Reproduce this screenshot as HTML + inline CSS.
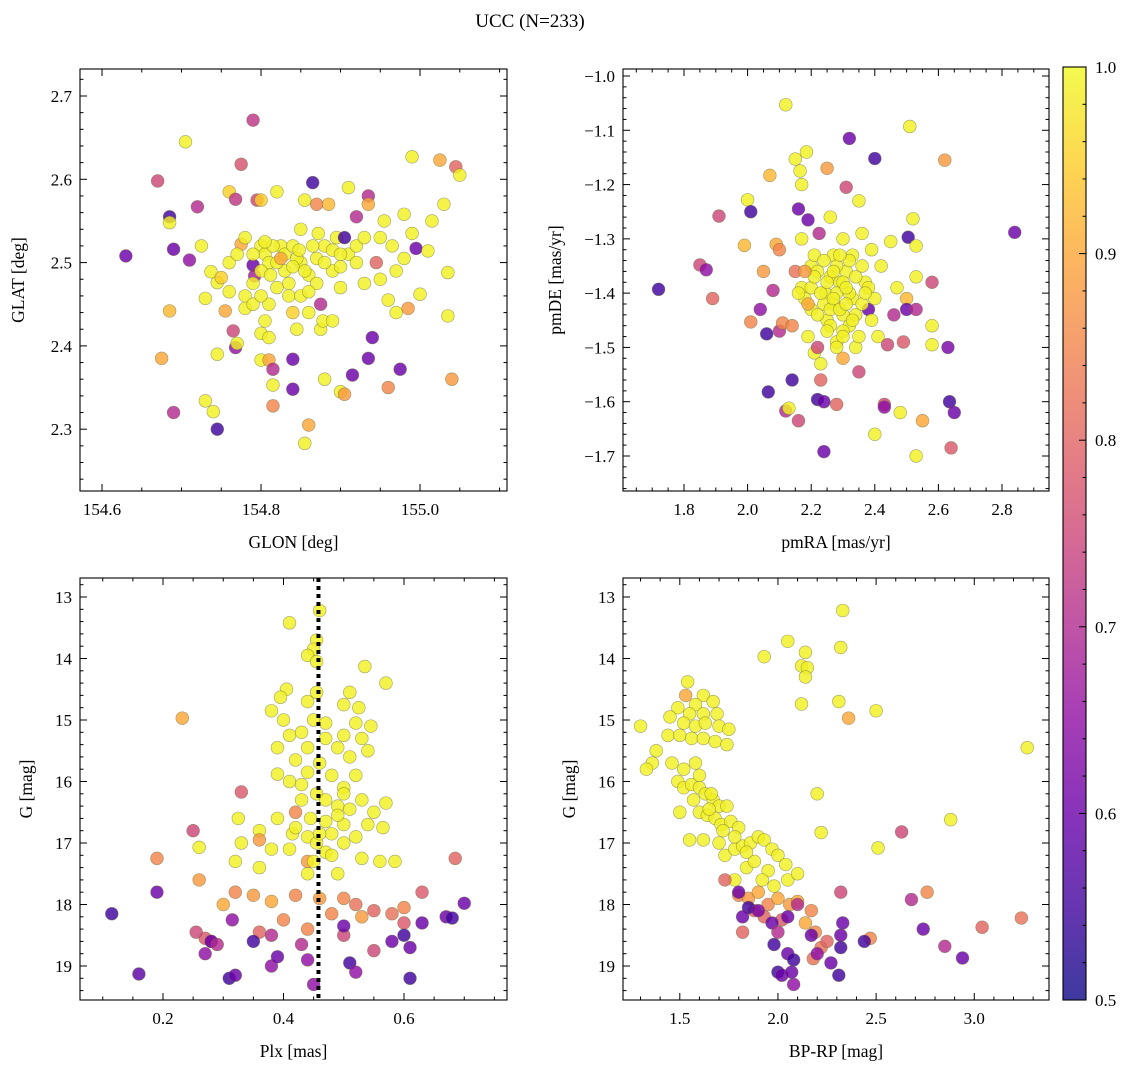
<!DOCTYPE html>
<html><head><meta charset="utf-8">
<style>
html,body{margin:0;padding:0;background:#fff;}
svg{display:block;font-family:"Liberation Serif",serif;}
</style></head>
<body>
<svg id="fig" width="1136" height="1067" viewBox="0 0 1136 1067" xmlns="http://www.w3.org/2000/svg">
<text x="530" y="27" font-size="19" text-anchor="middle">UCC (N=233)</text>
</svg>
<script>
// ---------- Top-left: GLON / GLAT ----------
const tlGlon=[154.63,154.67,154.685,154.685,154.69,154.69,154.705,154.71,154.72,154.675,154.685,154.725,154.73,154.73,154.74,154.745,154.745,154.737,154.745,154.75,154.755,154.765,154.768,154.77,154.76,154.768,154.775,154.79,154.775,154.78,154.78,154.79,154.792,154.795,154.8,154.8,154.805,154.81,154.81,154.805,154.8,154.80,154.81,154.81,154.815,154.815,154.815,154.82,154.825,154.83,154.835,154.84,154.84,154.84,154.845,154.85,154.85,154.855,154.855,154.86,154.86,154.865,154.87,154.87,154.875,154.875,154.878,154.88,154.88,154.885,154.89,154.89,154.895,154.9,154.9,154.905,154.905,154.91,154.91,154.915,154.92,154.92,154.93,154.935,154.935,154.935,154.94,154.945,154.95,154.955,154.96,154.96,154.965,154.97,154.975,154.98,154.98,154.985,154.99,154.99,154.995,155.0,155.01,155.015,155.025,155.03,155.035,155.035,155.04,155.045,155.05,154.79,154.8,154.815,154.82,154.83,154.84,154.845,154.855,154.865,154.88,154.89,154.9,154.92,154.93,154.87,154.82,154.79,154.85,154.76,154.78,154.805,154.812,154.825,154.835,154.848,154.86,154.872,154.8,154.79,154.84,154.86,154.9,154.76,154.77,154.95,154.97];
const tlGlat=[2.508,2.598,2.555,2.548,2.516,2.32,2.645,2.503,2.567,2.385,2.442,2.52,2.457,2.334,2.321,2.39,2.30,2.489,2.476,2.482,2.442,2.418,2.398,2.403,2.585,2.576,2.618,2.671,2.522,2.46,2.445,2.497,2.484,2.575,2.575,2.52,2.51,2.50,2.45,2.43,2.415,2.383,2.383,2.41,2.372,2.353,2.328,2.585,2.52,2.49,2.46,2.44,2.384,2.348,2.42,2.54,2.5,2.575,2.283,2.305,2.485,2.596,2.505,2.57,2.45,2.42,2.43,2.36,2.52,2.57,2.49,2.43,2.53,2.47,2.345,2.342,2.53,2.59,2.51,2.365,2.5,2.555,2.475,2.58,2.57,2.385,2.41,2.5,2.48,2.55,2.455,2.35,2.52,2.44,2.372,2.558,2.505,2.445,2.627,2.535,2.517,2.462,2.514,2.55,2.623,2.57,2.488,2.436,2.36,2.615,2.605,2.51,2.49,2.52,2.5,2.51,2.52,2.505,2.49,2.52,2.5,2.515,2.51,2.52,2.53,2.475,2.47,2.45,2.46,2.5,2.53,2.525,2.485,2.505,2.475,2.515,2.465,2.535,2.46,2.475,2.495,2.44,2.495,2.465,2.51,2.53,2.49];
const tlProb=[0.6,0.75,0.55,0.99,0.6,0.7,0.99,0.65,0.7,0.9,0.92,0.99,0.99,0.99,0.99,0.99,0.55,0.99,0.99,0.95,0.9,0.75,0.65,0.99,0.95,0.72,0.77,0.72,0.9,0.99,0.99,0.6,0.68,0.75,0.95,0.99,0.99,0.99,0.99,0.99,0.99,0.99,0.9,0.99,0.7,0.99,0.85,0.99,0.99,0.99,0.99,0.95,0.6,0.6,0.99,0.99,0.99,0.99,0.99,0.9,0.99,0.55,0.99,0.85,0.7,0.99,0.99,0.99,0.99,0.92,0.99,0.99,0.99,0.99,0.99,0.88,0.55,0.99,0.99,0.6,0.99,0.7,0.99,0.7,0.9,0.6,0.6,0.8,0.99,0.99,0.99,0.85,0.99,0.99,0.6,0.99,0.99,0.88,0.99,0.99,0.6,0.99,0.99,0.99,0.9,0.99,0.99,0.99,0.88,0.8,0.99,0.99,0.99,0.99,0.99,0.99,0.99,0.99,0.99,0.99,0.99,0.99,0.99,0.99,0.99,0.99,0.99,0.99,0.99,0.99,0.99,0.99,0.99,0.9,0.99,0.99,0.99,0.99,0.99,0.99,0.99,0.99,0.99,0.99,0.99,0.99,0.99];
// ---------- Top-right: pmRA / pmDE ----------
const trPmra=[1.72,1.85,1.87,1.89,1.91,1.99,2.0,2.01,2.01,2.04,2.05,2.06,2.065,2.07,2.08,2.09,2.1,2.1,2.11,2.12,2.12,2.13,2.14,2.14,2.15,2.15,2.16,2.16,2.165,2.17,2.17,2.17,2.18,2.185,2.19,2.19,2.2,2.2,2.21,2.21,2.22,2.22,2.225,2.23,2.23,2.24,2.24,2.245,2.25,2.25,2.26,2.26,2.27,2.27,2.28,2.28,2.29,2.3,2.3,2.3,2.31,2.31,2.32,2.32,2.33,2.33,2.34,2.35,2.35,2.36,2.37,2.38,2.39,2.4,2.4,2.41,2.42,2.43,2.43,2.44,2.45,2.46,2.47,2.48,2.49,2.5,2.5,2.505,2.51,2.52,2.53,2.53,2.53,2.53,2.55,2.58,2.58,2.58,2.62,2.63,2.635,2.64,2.65,2.84,2.22,2.24,2.26,2.28,2.28,2.3,2.32,2.32,2.34,2.34,2.36,2.36,2.38,2.26,2.3,2.24,2.22,2.4,2.2,2.35,2.23,2.25,2.27,2.29,2.31,2.33,2.25,2.27,2.29,2.31,2.21,2.19,2.37,2.39,2.18,2.16,2.28,2.3];
const trPmde=[-1.393,-1.348,-1.357,-1.41,-1.258,-1.312,-1.228,-1.25,-1.453,-1.43,-1.36,-1.475,-1.582,-1.183,-1.395,-1.31,-1.32,-1.47,-1.455,-1.053,-1.617,-1.612,-1.56,-1.46,-1.153,-1.36,-1.245,-1.635,-1.175,-1.2,-1.3,-1.39,-1.41,-1.14,-1.265,-1.48,-1.35,-1.43,-1.33,-1.51,-1.596,-1.5,-1.29,-1.56,-1.53,-1.692,-1.6,-1.4,-1.17,-1.45,-1.26,-1.37,-1.33,-1.42,-1.605,-1.49,-1.38,-1.3,-1.44,-1.52,-1.205,-1.36,-1.115,-1.46,-1.41,-1.33,-1.5,-1.23,-1.545,-1.29,-1.38,-1.43,-1.32,-1.152,-1.66,-1.48,-1.35,-1.605,-1.61,-1.495,-1.305,-1.44,-1.39,-1.62,-1.49,-1.41,-1.43,-1.297,-1.093,-1.263,-1.313,-1.7,-1.43,-1.37,-1.635,-1.46,-1.495,-1.38,-1.155,-1.5,-1.6,-1.685,-1.62,-1.288,-1.36,-1.42,-1.46,-1.35,-1.4,-1.38,-1.4,-1.34,-1.44,-1.37,-1.42,-1.35,-1.39,-1.43,-1.47,-1.34,-1.44,-1.41,-1.39,-1.48,-1.4,-1.38,-1.41,-1.43,-1.39,-1.45,-1.47,-1.36,-1.33,-1.42,-1.37,-1.42,-1.4,-1.45,-1.36,-1.4,-1.5,-1.48];
const trProb=[0.55,0.75,0.65,0.8,0.75,0.92,0.99,0.55,0.85,0.65,0.88,0.55,0.55,0.92,0.7,0.9,0.85,0.7,0.85,0.99,0.7,0.99,0.55,0.85,0.99,0.82,0.6,0.75,0.99,0.99,0.99,0.99,0.99,0.99,0.6,0.99,0.99,0.99,0.99,0.99,0.55,0.75,0.7,0.8,0.99,0.6,0.6,0.99,0.88,0.99,0.99,0.99,0.99,0.99,0.8,0.99,0.99,0.99,0.99,0.9,0.75,0.99,0.6,0.99,0.99,0.99,0.99,0.99,0.75,0.99,0.99,0.6,0.99,0.55,0.99,0.99,0.99,0.75,0.65,0.75,0.99,0.7,0.99,0.99,0.78,0.92,0.6,0.55,0.99,0.99,0.99,0.99,0.7,0.99,0.9,0.99,0.99,0.75,0.88,0.62,0.55,0.78,0.6,0.6,0.99,0.99,0.99,0.99,0.99,0.99,0.99,0.99,0.99,0.99,0.99,0.99,0.99,0.99,0.99,0.99,0.99,0.99,0.99,0.99,0.99,0.99,0.99,0.99,0.99,0.99,0.99,0.99,0.99,0.99,0.99,0.9,0.99,0.99,0.88,0.99,0.99,0.99];
// ---------- Bottom-left: Plx / G ----------
const blPlx=[0.41,0.46,0.455,0.45,0.44,0.455,0.535,0.57,0.405,0.395,0.44,0.455,0.5,0.525,0.51,0.38,0.4,0.45,0.47,0.52,0.545,0.41,0.43,0.47,0.5,0.53,0.39,0.44,0.49,0.54,0.42,0.46,0.51,0.44,0.48,0.39,0.52,0.41,0.5,0.455,0.53,0.57,0.43,0.49,0.51,0.55,0.325,0.39,0.445,0.47,0.5,0.54,0.565,0.36,0.415,0.44,0.48,0.52,0.455,0.5,0.33,0.38,0.41,0.47,0.53,0.56,0.32,0.36,0.44,0.49,0.585,0.26,0.232,0.33,0.25,0.19,0.26,0.36,0.42,0.44,0.3,0.32,0.35,0.38,0.42,0.46,0.5,0.52,0.55,0.58,0.6,0.63,0.685,0.48,0.44,0.36,0.27,0.255,0.28,0.5,0.55,0.6,0.53,0.4,0.115,0.19,0.16,0.28,0.27,0.29,0.315,0.31,0.32,0.35,0.38,0.38,0.39,0.43,0.44,0.45,0.5,0.51,0.52,0.58,0.6,0.61,0.61,0.63,0.67,0.7,0.68,0.47,0.49,0.43,0.46,0.48,0.42,0.5,0.45];
const blG=[13.42,13.22,13.7,13.85,13.95,14.05,14.13,14.4,14.5,14.63,14.7,14.55,14.75,14.8,14.55,14.85,15.0,15.0,15.05,15.05,15.1,15.25,15.2,15.3,15.25,15.3,15.45,15.45,15.45,15.5,15.65,15.7,15.6,15.85,15.9,15.88,15.9,16.0,16.1,16.2,16.3,16.35,16.3,16.4,16.45,16.5,16.6,16.6,16.6,16.65,16.7,16.7,16.75,16.8,16.85,16.9,16.85,16.9,17.0,17.0,17.0,17.1,17.1,17.15,17.25,17.3,17.3,17.4,17.5,17.5,17.3,17.07,14.97,16.17,16.8,17.25,17.6,16.95,16.5,17.3,18.0,17.8,17.85,17.95,17.85,17.9,17.9,18.0,18.1,18.15,18.05,17.8,17.25,18.15,18.4,18.45,18.55,18.45,18.6,18.5,18.75,18.3,18.2,18.25,18.15,17.8,19.13,18.6,18.8,18.65,18.25,19.2,19.15,18.6,18.5,19.0,18.85,18.65,18.9,19.3,18.35,18.95,19.1,18.6,18.5,19.2,18.7,18.3,18.2,17.98,18.22,16.3,16.55,16.05,16.85,17.2,16.75,16.2,17.3];
const blProb=[0.99,0.99,0.99,0.99,0.99,0.99,0.99,0.99,0.99,0.99,0.99,0.99,0.99,0.99,0.99,0.99,0.99,0.99,0.99,0.99,0.99,0.99,0.99,0.99,0.99,0.99,0.99,0.99,0.99,0.99,0.99,0.99,0.99,0.99,0.99,0.99,0.99,0.99,0.99,0.99,0.99,0.99,0.99,0.99,0.99,0.99,0.99,0.99,0.99,0.99,0.99,0.99,0.99,0.99,0.99,0.99,0.99,0.99,0.99,0.99,0.99,0.99,0.99,0.99,0.99,0.99,0.99,0.99,0.99,0.99,0.99,0.99,0.9,0.78,0.75,0.85,0.88,0.88,0.85,0.88,0.9,0.85,0.88,0.9,0.85,0.88,0.85,0.82,0.8,0.82,0.85,0.78,0.8,0.85,0.85,0.8,0.78,0.75,0.75,0.75,0.75,0.78,0.88,0.85,0.55,0.6,0.58,0.6,0.65,0.7,0.65,0.55,0.6,0.55,0.7,0.65,0.6,0.7,0.65,0.65,0.6,0.55,0.65,0.6,0.55,0.55,0.6,0.6,0.6,0.6,0.55,0.99,0.99,0.99,0.99,0.99,0.99,0.99,0.99];
// ---------- Bottom-right: BP-RP / G ----------
const brColor=[2.33,2.05,2.14,2.32,1.93,2.12,2.15,2.14,1.54,1.62,1.53,1.58,1.67,1.49,1.55,1.62,1.69,1.45,1.52,1.58,1.63,1.7,1.3,1.75,1.44,1.5,1.56,1.62,1.68,1.74,2.12,2.31,2.5,3.27,1.38,1.36,1.33,1.46,1.52,1.58,1.49,1.52,1.56,1.6,1.63,1.67,1.7,1.74,1.57,1.6,1.64,1.68,1.71,1.76,1.8,1.5,1.55,1.62,1.7,1.73,1.78,1.82,1.86,1.9,1.93,1.97,2.0,2.04,1.84,1.88,1.95,2.2,2.22,2.88,2.51,2.05,2.1,1.78,2.36,1.73,1.8,1.85,1.9,1.95,2.0,2.06,2.1,1.88,1.93,2.02,2.17,2.14,2.19,2.22,2.47,2.76,3.04,3.24,2.63,2.32,1.82,2.18,2.25,1.8,1.85,1.82,1.9,1.97,2.0,2.05,2.05,1.98,2.0,2.02,2.07,2.08,2.08,2.17,2.2,2.27,2.31,2.32,2.33,2.32,2.44,2.68,2.74,2.85,2.94,2.1,1.65,1.72,1.78,1.84,1.6,1.66,1.92,1.98];
const brG=[13.22,13.72,13.9,13.82,13.97,14.12,14.15,14.3,14.38,14.6,14.6,14.75,14.7,14.8,14.9,14.9,14.9,14.95,15.05,15.1,15.05,15.1,15.1,15.15,15.25,15.25,15.3,15.3,15.35,15.4,14.74,14.7,14.85,15.45,15.5,15.7,15.8,15.7,15.8,15.7,16.0,16.1,16.05,16.1,16.2,16.3,16.4,16.4,16.3,16.5,16.55,16.6,16.7,16.65,16.75,16.5,16.95,16.95,17.0,17.2,17.1,17.05,17.0,16.9,16.95,17.1,17.2,17.35,17.4,17.3,17.45,16.2,16.83,16.62,17.08,17.6,17.5,17.6,14.97,17.6,17.85,17.9,17.8,18.0,17.9,18.0,17.95,18.1,18.2,18.25,18.1,18.3,18.45,18.7,18.55,17.8,18.37,18.22,16.82,17.8,18.45,18.88,18.6,17.8,18.05,18.2,18.1,18.3,18.45,18.2,18.8,18.65,19.1,19.15,19.1,18.9,19.3,18.5,18.8,18.95,19.15,18.5,18.3,18.7,18.6,17.92,18.4,18.68,18.87,18.0,16.45,16.8,16.9,17.15,15.9,16.2,17.6,17.7];
const brProb=[0.99,0.99,0.99,0.99,0.99,0.99,0.99,0.99,0.99,0.99,0.9,0.99,0.99,0.99,0.99,0.99,0.99,0.99,0.99,0.99,0.99,0.99,0.99,0.99,0.99,0.99,0.99,0.99,0.99,0.99,0.99,0.99,0.99,0.99,0.99,0.99,0.99,0.99,0.99,0.99,0.99,0.99,0.99,0.99,0.99,0.99,0.99,0.99,0.99,0.99,0.99,0.99,0.99,0.99,0.99,0.99,0.99,0.99,0.99,0.99,0.99,0.99,0.99,0.99,0.99,0.99,0.99,0.99,0.99,0.99,0.99,0.99,0.99,0.99,0.99,0.99,0.99,0.99,0.9,0.8,0.85,0.88,0.9,0.85,0.9,0.88,0.9,0.8,0.8,0.78,0.85,0.9,0.85,0.82,0.85,0.85,0.8,0.82,0.75,0.75,0.8,0.82,0.8,0.6,0.55,0.6,0.62,0.6,0.7,0.6,0.6,0.55,0.55,0.6,0.6,0.55,0.65,0.6,0.65,0.6,0.55,0.6,0.6,0.55,0.55,0.7,0.6,0.7,0.6,0.7,0.99,0.99,0.99,0.99,0.99,0.99,0.99,0.99];
// tick labels
const tlXTicks=[154.6,154.8,155.0], tlYTicks=[2.3,2.4,2.5,2.6,2.7];
const trXTicks=[1.8,2.0,2.2,2.4,2.6,2.8], trYTicks=[-1.7,-1.6,-1.5,-1.4,-1.3,-1.2,-1.1,-1.0];
const blXTicks=[0.2,0.4,0.6], gTicks=[13,14,15,16,17,18,19];
const brXTicks=[1.5,2.0,2.5,3.0];
const cbTicks=[0.5,0.6,0.7,0.8,0.9,1.0];
const plxLine=0.458;

const NS="http://www.w3.org/2000/svg";
const svg=document.getElementById('fig');
function mk(tag,attrs,parent){const e=document.createElementNS(NS,tag);for(const k in attrs)e.setAttribute(k,attrs[k]);(parent||svg).appendChild(e);return e;}
const stops=[[0,'#0d0887'],[0.1,'#41049d'],[0.2,'#6a00a8'],[0.3,'#8f0da4'],[0.4,'#b12a90'],[0.5,'#cc4778'],[0.6,'#e16462'],[0.7,'#f2844b'],[0.8,'#fca636'],[0.9,'#fcce25'],[1,'#f0f921']];
function hex(h){return [1,3,5].map(i=>parseInt(h.substr(i,2),16));}
function plasma(c){let t=Math.max(0,Math.min(1,(c-0.5)/0.5));for(let i=1;i<stops.length;i++){if(t<=stops[i][0]){const a=stops[i-1],b=stops[i];const f=(t-a[0])/(b[0]-a[0]);const A=hex(a[1]),B=hex(b[1]);return 'rgb('+A.map((v,j)=>Math.round(v+(B[j]-v)*f)).join(',')+')';}}return stops[stops.length-1][1];}

function panel(o){
  const g=mk('g',{});
  
  
  const sx=v=>o.L+(v-o.x0)/(o.x1-o.x0)*(o.R-o.L);
  const sy=v=>o.T+(v-o.y0)/(o.y1-o.y0)*(o.B-o.T);
  const pts=mk('g',{},g);
  
  
  for(let i=0;i<o.xs.length;i++){
    const c=mk('circle',{cx:sx(o.xs[i]),cy:sy(o.ys[i]),r:6.4,fill:plasma(o.cs[i]),'fill-opacity':0.82,stroke:'#6b6b40','stroke-width':0.6,'stroke-opacity':0.6},pts);
    
    
  }
  if(o.vline!==undefined){
    const l=mk('line',{x1:sx(o.vline),x2:sx(o.vline),y1:o.T,y2:o.B,stroke:'#000','stroke-width':4,'stroke-dasharray':'4,4'},g);
    
    
  }
  const fr=mk('rect',{x:o.L,y:o.T,width:o.R-o.L,height:o.B-o.T,fill:'none',stroke:'#000','stroke-width':1.1},g);
  
  
  const lo=Math.min(o.x0,o.x1),hi=Math.max(o.x0,o.x1);
  const n0=Math.ceil(lo/o.xmin-1e-6),n1=Math.floor(hi/o.xmin+1e-6);
  for(let n=n0;n<=n1;n++){const v=n*o.xmin;const isMaj=Math.abs(v/o.xmaj-Math.round(v/o.xmaj))<1e-6;const len=isMaj?7:3.5;const x=sx(v);
    mk('line',{x1:x,x2:x,y1:o.B,y2:o.B-len,stroke:'#000','stroke-width':1},g);
    mk('line',{x1:x,x2:x,y1:o.T,y2:o.T+len,stroke:'#000','stroke-width':1},g);}
  const ylo=Math.min(o.y0,o.y1),yhi=Math.max(o.y0,o.y1);
  const m0=Math.ceil(ylo/o.ymin-1e-6),m1=Math.floor(yhi/o.ymin+1e-6);
  for(let n=m0;n<=m1;n++){const v=n*o.ymin;const isMaj=Math.abs(v/o.ymaj-Math.round(v/o.ymaj))<1e-6;const len=isMaj?7:3.5;const y=sy(v);
    mk('line',{x1:o.L,x2:o.L+len,y1:y,y2:y,stroke:'#000','stroke-width':1},g);
    mk('line',{x1:o.R,x2:o.R-len,y1:y,y2:y,stroke:'#000','stroke-width':1},g);}
  o.xt.forEach(v=>{const t=mk('text',{x:sx(v),y:o.B+24,'font-size':17,'text-anchor':'middle'},g);t.textContent=v.toFixed(o.xd);
    });
  o.yt.forEach(v=>{const t=mk('text',{x:o.L-8,y:sy(v)+6,'font-size':17,'text-anchor':'end'},g);t.textContent=(v<0?'\u2212':'')+Math.abs(v).toFixed(o.yd);
    });
  const xl=mk('text',{x:(o.L+o.R)/2,y:o.B+57,'font-size':17.5,'text-anchor':'middle'},g);xl.textContent=o.xlab;
  
  const yx=o.L-o.ylOff, yy=(o.T+o.B)/2;
  const yl=mk('text',{x:yx,y:yy,'font-size':17.5,'text-anchor':'middle',transform:'rotate(-90 '+yx+' '+yy+')'},g);yl.textContent=o.ylab;
  
}
panel({name:'glon-glat-panel',L:80,R:507,T:69,B:491,x0:154.5723,x1:155.1094,y0:2.7324,y1:2.2258,xs:tlGlon,ys:tlGlat,cs:tlProb,xmaj:0.2,xmin:0.05,ymaj:0.1,ymin:0.02,xt:tlXTicks,yt:tlYTicks,xd:1,yd:1,xlab:'GLON [deg]',ylab:'GLAT [deg]',ylOff:56});
panel({name:'proper-motion-panel',L:623,R:1049,T:69,B:491,x0:1.6082,x1:2.9478,y0:-0.9871,y1:-1.7645,xs:trPmra,ys:trPmde,cs:trProb,xmaj:0.2,xmin:0.05,ymaj:0.1,ymin:0.02,xt:trXTicks,yt:trYTicks,xd:1,yd:1,xlab:'pmRA [mas/yr]',ylab:'pmDE [mas/yr]',ylOff:62});
panel({name:'parallax-magnitude-panel',L:80,R:507,T:578,B:1000,x0:0.06224,x1:0.77095,y0:12.691,y1:19.553,xs:blPlx,ys:blG,cs:blProb,xmaj:0.2,xmin:0.05,ymaj:1,ymin:0.2,xt:blXTicks,yt:gTicks,xd:1,yd:0,xlab:'Plx [mas]',ylab:'G [mag]',ylOff:48,vline:plxLine});
panel({name:'color-magnitude-panel',L:623,R:1049,T:578,B:1000,x0:1.2107,x1:3.3807,y0:12.691,y1:19.553,xs:brColor,ys:brG,cs:brProb,xmaj:0.5,xmin:0.1,ymaj:1,ymin:0.2,xt:brXTicks,yt:gTicks,xd:1,yd:0,xlab:'BP-RP [mag]',ylab:'G [mag]',ylOff:48});

// colorbar
const cb=mk('g',{});


const defs=mk('defs',{},cb);
const lg=mk('linearGradient',{id:'plasmaGrad',x1:0,y1:1,x2:0,y2:0},defs);
stops.forEach(s=>mk('stop',{offset:s[0],'stop-color':s[1]},lg));
const cT=67,cB=1000,cL=1063,cR=1086;
mk('rect',{x:cL,y:cT,width:cR-cL,height:cB-cT,fill:'url(#plasmaGrad)','fill-opacity':0.8},cb);
mk('rect',{x:cL,y:cT,width:cR-cL,height:cB-cT,fill:'none',stroke:'#000','stroke-width':1.1},cb);
const cy=v=>cB-(v-0.5)/0.5*(cB-cT);
for(let n=25;n<=50;n++){const v=n*0.02;const maj=n%5===0;const y=cy(v);
  mk('line',{x1:cR,x2:cR-(maj?7:3.5),y1:y,y2:y,stroke:'#000','stroke-width':1},cb);}
cbTicks.forEach(v=>{const t=mk('text',{x:cR+9,y:cy(v)+6,'font-size':17},cb);t.textContent=v.toFixed(1);
  });
</script>
</body></html>
